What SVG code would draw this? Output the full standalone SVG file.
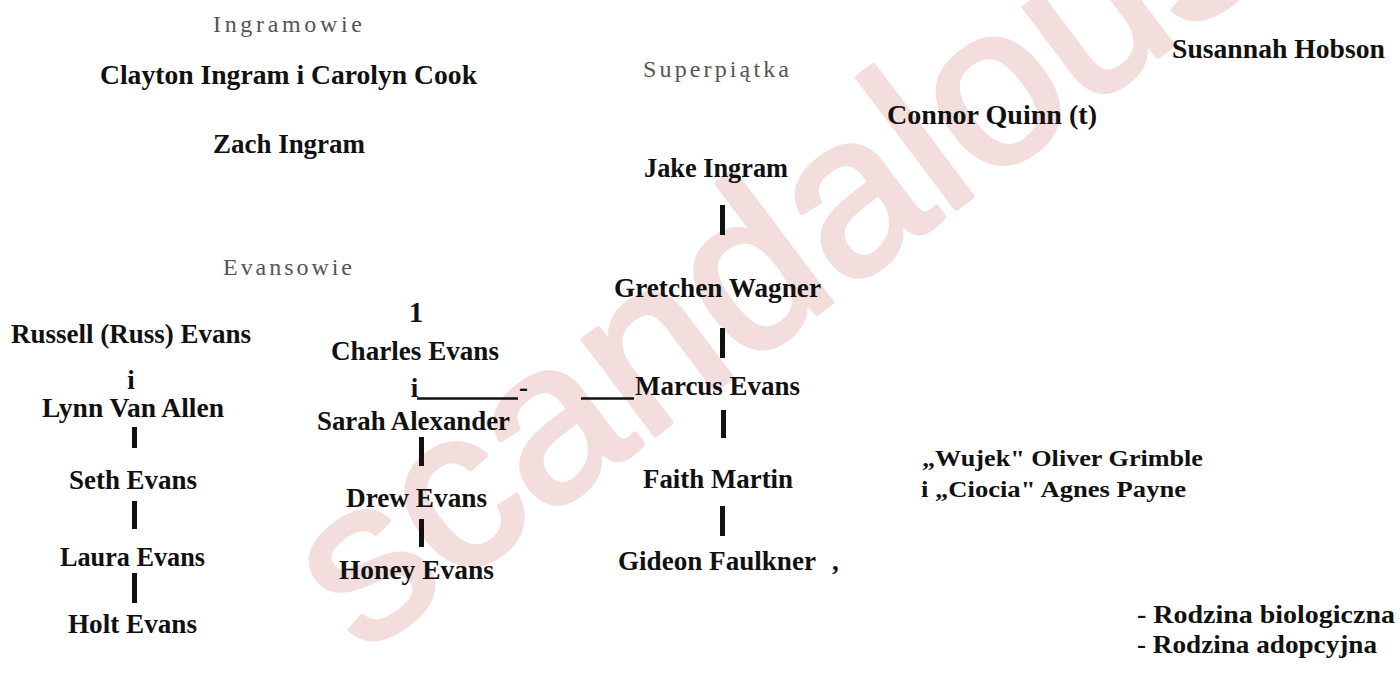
<svg xmlns="http://www.w3.org/2000/svg" width="1400" height="673" viewBox="0 0 1400 673">
<style>
.n{font-family:"Liberation Serif","Times New Roman",serif;font-weight:bold;font-size:27px;fill:#111}
.s{font-family:"Liberation Serif","Times New Roman",serif;font-weight:bold;font-size:24px;fill:#111}
.h{font-family:"Liberation Serif","Times New Roman",serif;font-size:24px;fill:#555}
.wm{font-family:"Liberation Sans",Arial,sans-serif;font-size:226px;fill:#f3dddd;stroke:#f3dddd;stroke-width:5;stroke-linejoin:round}
.bar{fill:#111}
.ul{stroke:#111;stroke-width:2.5}
</style>
<rect width="1400" height="673" fill="#fff"/>
<text class="wm" transform="translate(362,656) rotate(-37)">scandalous</text>
<g id="connectors">
<rect class="bar" x="720" y="205" width="5" height="30"/>
<rect class="bar" x="720" y="328" width="5" height="30"/>
<rect class="bar" x="721" y="410" width="5" height="28"/>
<rect class="bar" x="720" y="506" width="5" height="30"/>
<rect class="bar" x="132" y="427" width="5" height="21"/>
<rect class="bar" x="132" y="501" width="5" height="28"/>
<rect class="bar" x="132" y="573" width="5" height="30"/>
<rect class="bar" x="419" y="437" width="5" height="29"/>
<rect class="bar" x="419" y="519" width="5" height="28"/>
<line class="ul" x1="417" y1="398.5" x2="518" y2="398.5"/>
<line class="ul" x1="581" y1="398.5" x2="634" y2="398.5"/>
</g>
<g id="hdr-ingram"><text class="h" x="213" y="32" textLength="149" lengthAdjust="spacing">Ingramowie</text></g>
<g id="hdr-super"><text class="h" x="643" y="77" textLength="146" lengthAdjust="spacing">Superpiątka</text></g>
<g id="hdr-evans"><text class="h" x="223" y="275" textLength="129" lengthAdjust="spacing">Evansowie</text></g>
<g id="clayton"><text class="n" x="100" y="84" textLength="377" lengthAdjust="spacingAndGlyphs">Clayton Ingram i Carolyn Cook</text></g>
<g id="zach"><text class="n" x="213" y="153" textLength="152" lengthAdjust="spacingAndGlyphs">Zach Ingram</text></g>
<g id="connor"><text class="n" x="887" y="124" textLength="210" lengthAdjust="spacingAndGlyphs">Connor Quinn (t)</text></g>
<g id="susannah"><text class="n" x="1172" y="58" textLength="213" lengthAdjust="spacingAndGlyphs">Susannah Hobson</text></g>
<g id="jake"><text class="n" x="644" y="177" textLength="144" lengthAdjust="spacingAndGlyphs">Jake Ingram</text></g>
<g id="gretchen"><text class="n" x="614" y="297" textLength="207" lengthAdjust="spacingAndGlyphs">Gretchen Wagner</text></g>
<g id="marcus"><text class="n" x="635" y="395" textLength="165" lengthAdjust="spacingAndGlyphs">Marcus Evans</text></g>
<g id="faith"><text class="n" x="643" y="488" textLength="150" lengthAdjust="spacingAndGlyphs">Faith Martin</text></g>
<g id="gideon"><text class="n" x="618" y="570" textLength="198" lengthAdjust="spacingAndGlyphs">Gideon Faulkner</text><text class="n" x="832" y="570">,</text></g>
<g id="russell"><text class="n" x="11" y="343" textLength="240" lengthAdjust="spacingAndGlyphs">Russell (Russ) Evans</text><text class="n" x="131" y="389" text-anchor="middle">i</text></g>
<g id="lynn"><text class="n" x="42" y="417" textLength="182" lengthAdjust="spacingAndGlyphs">Lynn Van Allen</text></g>
<g id="seth"><text class="n" x="69" y="489" textLength="128" lengthAdjust="spacingAndGlyphs">Seth Evans</text></g>
<g id="laura"><text class="n" x="60" y="566" textLength="145" lengthAdjust="spacingAndGlyphs">Laura Evans</text></g>
<g id="holt"><text class="n" x="68" y="633" textLength="129" lengthAdjust="spacingAndGlyphs">Holt Evans</text></g>
<g id="one"><text class="n" x="416" y="322" text-anchor="middle" style="font-size:29px">1</text></g>
<g id="charles"><text class="n" x="331" y="360" textLength="168" lengthAdjust="spacingAndGlyphs">Charles Evans</text><text class="n" x="414.5" y="397" text-anchor="middle">i</text><text class="n" x="519" y="396">-</text></g>
<g id="sarah"><text class="n" x="317" y="430" textLength="193" lengthAdjust="spacingAndGlyphs">Sarah Alexander</text></g>
<g id="drew"><text class="n" x="346" y="507" textLength="141" lengthAdjust="spacingAndGlyphs">Drew Evans</text></g>
<g id="honey"><text class="n" x="339" y="579" textLength="155" lengthAdjust="spacingAndGlyphs">Honey Evans</text></g>
<g id="wujek"><text class="s" x="922" y="466" textLength="281" lengthAdjust="spacingAndGlyphs">„Wujek"  Oliver  Grimble</text><text class="s" x="921" y="497" textLength="265" lengthAdjust="spacingAndGlyphs">i „Ciocia" Agnes Payne</text></g>
<g id="legend"><text class="s" x="1137" y="623" textLength="258" lengthAdjust="spacingAndGlyphs" style="font-size:25px">- Rodzina  biologiczna</text><text class="s" x="1137" y="653" textLength="240" lengthAdjust="spacingAndGlyphs" style="font-size:25px">- Rodzina  adopcyjna</text></g>
</svg>
